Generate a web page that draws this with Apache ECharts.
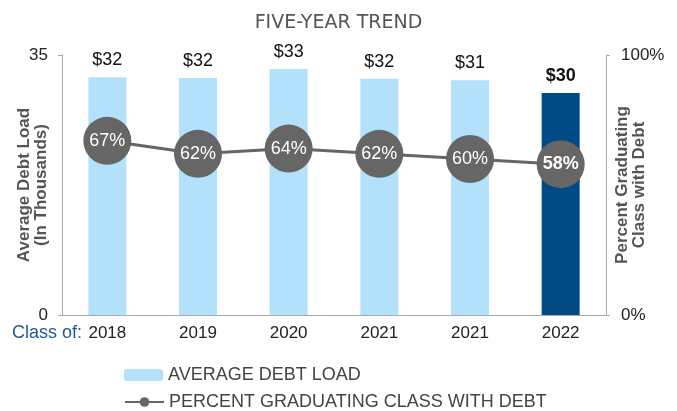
<!DOCTYPE html>
<html>
<head>
<meta charset="utf-8">
<script src="https://cdn.jsdelivr.net/npm/echarts@6/dist/echarts.min.js"></script>
<style>
  html, body { margin: 0; padding: 0; background: #fff; }
  #main { width: 677px; height: 411px; }
</style>
</head>
<body>
<div id="main"></div>
<script>
  // class years (two 2021 columns, as on the original slide)
  let years = ['2018', '2019', '2020', '2021', '2021', '2022'];
  // average debt load, thousands of dollars
  let debtLoad = [32, 31.9, 33.1, 31.8, 31.6, 29.9];
  let debtLabels = ['$32', '$32', '$33', '$32', '$31', '$30'];
  // percent of graduating class with debt
  let pctWithDebt = [67, 62, 64, 62, 60, 58];

  let lightBlue = '#b3e1fb';
  let darkBlue = '#004a85';
  let gray = '#666666';
  let font = '"Liberation Sans", Arial, sans-serif';

  let mychart = echarts.init(document.getElementById('main'));

  let barData = debtLoad.map(function (v, i) {
    let last = i === debtLoad.length - 1;
    return {
      value: v,
      itemStyle: { color: last ? darkBlue : lightBlue },
      label: { fontWeight: last ? 'bold' : 'normal' }
    };
  });

  let lineData = pctWithDebt.map(function (v, i) {
    let last = i === pctWithDebt.length - 1;
    return { value: v, label: { fontWeight: last ? 'bold' : 'normal' } };
  });

  let legendText = { fontFamily: font, fontSize: 18, color: '#444' };

  let option = {
    animation: false,
    title: {
      text: 'FIVE-YEAR TREND',
      left: 'center',
      top: 9,
      textStyle: { fontFamily: '"DejaVu Sans", sans-serif', fontWeight: 'normal', fontSize: 19, color: '#555' }
    },
    grid: { left: 62, right: 71, top: 55, bottom: 96, outerBoundsMode: 'none', containLabel: false },
    legend: [
      {
        left: 124,
        top: 366,
        padding: 0,
        itemWidth: 39,
        itemHeight: 12,
        textStyle: legendText,
        data: ['AVERAGE DEBT LOAD']
      },
      {
        left: 124,
        top: 393,
        padding: 0,
        itemWidth: 39,
        itemHeight: 12,
        textStyle: legendText,
        data: ['PERCENT GRADUATING CLASS WITH DEBT']
      }
    ],
    graphic: [{
      type: 'text',
      left: 12,
      top: 324,
      style: { text: 'Class of:', fontFamily: font, fontSize: 18, fill: '#1f5a96' }
    }],
    xAxis: {
      type: 'category',
      data: years,
      axisLine: { lineStyle: { color: '#aaa' } },
      axisTick: { show: false },
      axisLabel: { fontFamily: font, fontSize: 17, color: '#222', margin: 10 }
    },
    yAxis: [
      {
        type: 'value',
        min: 0,
        max: 35,
        interval: 35,
        splitLine: { show: false },
        axisLine: { show: true, lineStyle: { color: '#aaa' } },
        axisTick: { show: true, length: 4, lineStyle: { color: '#aaa' } },
        axisLabel: { fontFamily: font, fontSize: 17, color: '#222', margin: 14 },
        name: 'Average Debt Load\n(In Thousands)',
        nameLocation: 'middle',
        nameRotate: 90,
        nameGap: 12,
        nameMoveOverlap: false,
        nameTextStyle: { fontFamily: font, fontSize: 17, fontWeight: 'bold', color: '#555', lineHeight: 17 }
      },
      {
        type: 'value',
        min: 0,
        max: 100,
        interval: 100,
        splitLine: { show: false },
        axisLine: { show: true, lineStyle: { color: '#aaa' } },
        axisTick: { show: true, length: 4, lineStyle: { color: '#aaa' } },
        axisLabel: { fontFamily: font, fontSize: 17, color: '#222', margin: 15, formatter: '{value}%' },
        name: 'Percent Graduating\nClass with Debt',
        nameLocation: 'middle',
        nameRotate: 90,
        nameGap: 8,
        nameMoveOverlap: false,
        nameTextStyle: { fontFamily: font, fontSize: 17, fontWeight: 'bold', color: '#555', lineHeight: 17 }
      }
    ],
    series: [
      {
        name: 'AVERAGE DEBT LOAD',
        type: 'bar',
        yAxisIndex: 0,
        barWidth: 38,
        itemStyle: { color: lightBlue },
        label: {
          show: true,
          position: 'top',
          distance: 8,
          fontFamily: font,
          fontSize: 18,
          color: '#111',
          formatter: function (p) { return debtLabels[p.dataIndex]; }
        },
        data: barData
      },
      {
        name: 'PERCENT GRADUATING CLASS WITH DEBT',
        type: 'line',
        yAxisIndex: 1,
        symbol: 'circle',
        symbolSize: 48,
        itemStyle: { color: gray },
        lineStyle: { color: gray, width: 3 },
        label: {
          show: true,
          position: 'inside',
          fontFamily: font,
          fontSize: 18,
          color: '#fff',
          formatter: '{c}%'
        },
        data: lineData
      }
    ]
  };

  mychart.setOption(option);
</script>
</body>
</html>
